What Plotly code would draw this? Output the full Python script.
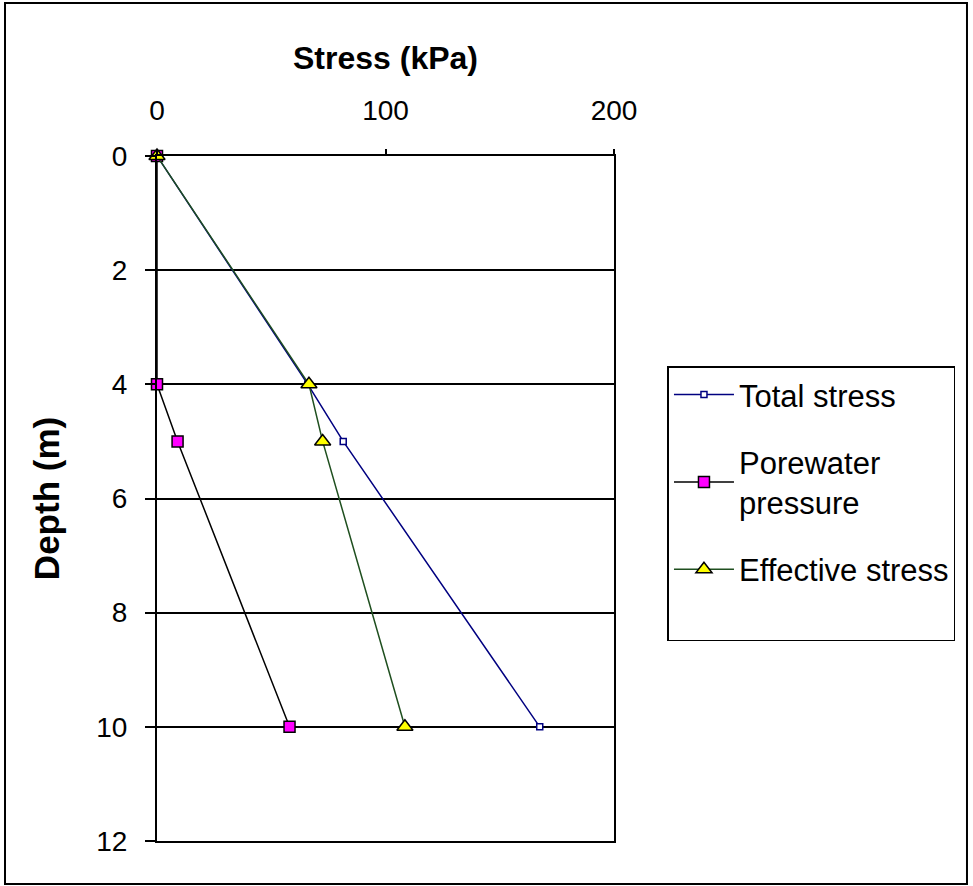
import plotly.graph_objects as go

depth = [0, 4, 5, 10]
total_stress = [0, 66, 81.5, 167.5]
porewater = [0, 0, 9, 58]
effective = [0, 66.5, 72.5, 108.5]

x_ticks = [0, 100, 200]
y_ticks = [0, 2, 4, 6, 8, 10, 12]

FONT = "Liberation Sans, Arial, sans-serif"

fig = go.Figure()
fig.add_trace(go.Scatter(
    x=total_stress, y=depth, mode="lines+markers", name="Total stress",
    legendgroup="a", cliponaxis=False,
    line=dict(color="#000080", width=1.5),
    marker=dict(symbol="square", size=6, color="white", line=dict(color="#000080", width=1.5)),
))
fig.add_trace(go.Scatter(
    x=porewater, y=depth, mode="lines+markers", name="Porewater<br>pressure",
    legendgroup="b", cliponaxis=False,
    line=dict(color="black", width=1.5),
    marker=dict(symbol="square", size=11, color="#ff00ff", line=dict(color="black", width=1.5)),
))
fig.add_trace(go.Scatter(
    x=effective, y=depth, mode="lines+markers", name="Effective stress",
    legendgroup="c", cliponaxis=False,
    line=dict(color="#1f4f1f", width=1.5),
    marker=dict(symbol="triangle-up", size=14, color="#ffff00", line=dict(color="black", width=1.5)),
))
# blank legend spacer (keeps the legend box as tall as the original)
fig.add_trace(go.Scatter(
    x=[None], y=[None], mode="lines", name=" ", legendgroup="c",
    line=dict(color="rgba(0,0,0,0)", width=0), hoverinfo="skip",
))

px_to_depth = 12 / 685.0
shadow_off = 2 * px_to_depth

fig.update_layout(
    width=973, height=886,
    margin=dict(l=157, r=359, t=156, b=45),
    paper_bgcolor="white", plot_bgcolor="white",
    font=dict(family=FONT, size=28, color="black"),
    showlegend=True,
    legend=dict(
        x=1.117, y=0.693, xanchor="left", yanchor="top",
        bordercolor="black", borderwidth=1.5, bgcolor="white",
        font=dict(family=FONT, size=31, color="black"),
        tracegroupgap=24, itemwidth=60,
    ),
    xaxis=dict(
        side="top", range=[0, 200], tickvals=x_ticks,
        showgrid=False, zeroline=False,
        showline=True, linecolor="black", linewidth=2, mirror=True,
        ticks="outside", ticklen=5, tickcolor="black", tickwidth=2,
        ticklabelstandoff=18,
        title=dict(text="<b>Stress (kPa)</b>", font=dict(family=FONT, size=32), standoff=16),
        tickfont=dict(family=FONT, size=28),
    ),
    yaxis=dict(
        range=[12, 0], tickvals=y_ticks,
        showgrid=True, gridcolor="black", gridwidth=2,
        zeroline=False,
        showline=True, linecolor="black", linewidth=2, mirror=True,
        ticks="outside", ticklen=10, tickcolor="black", tickwidth=2,
        ticklabelstandoff=12,
        title=dict(text="<b>Depth (m)</b>", font=dict(family=FONT, size=35), standoff=26),
        tickfont=dict(family=FONT, size=28),
    ),
    yaxis2=dict(
        overlaying="y", anchor="x", side="left",
        range=[12 - shadow_off, -shadow_off], tickvals=y_ticks,
        showgrid=True, gridcolor="#a0a0a0", gridwidth=1.5,
        zeroline=False, showline=False, showticklabels=False, ticks="",
    ),
)

fig.add_shape(
    type="rect", xref="paper", yref="paper",
    x0=-0.3326, x1=1.7724, y0=-0.0628, y1=1.2234,
    line=dict(color="black", width=2), fillcolor="rgba(0,0,0,0)", layer="below",
)

fig.write_html("out.html", config={"displayModeBar": False},
               post_script="document.body.style.margin='0';")
